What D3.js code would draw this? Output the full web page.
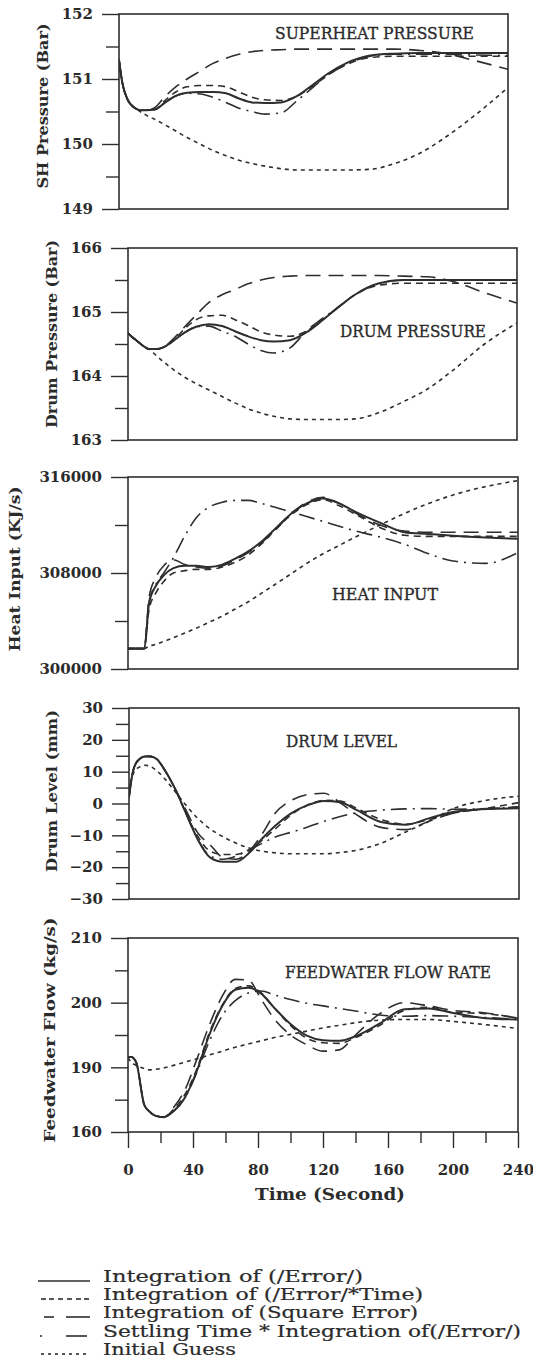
<!DOCTYPE html>
<html>
<head>
<meta charset="utf-8">
<script src="https://cdn.jsdelivr.net/npm/d3@7/dist/d3.min.js"></script>
<style>
  html, body { margin: 0; padding: 0; background: #ffffff; }
  svg { display: block; }
  text { font-family: "DejaVu Serif", "Liberation Serif", serif; fill: #2b2b2b; }
</style>
</head>
<body>
<svg id="chart" width="533" height="1363"></svg>
<script>
// ---------------- DATA ----------------
const timeSec = [0, 2, 5, 10, 13, 17, 22, 28, 35, 42, 50, 58, 66, 74, 82, 90, 100, 110, 120, 130, 140, 155, 170, 185, 200, 220, 240];
const xTickValues = [0, 40, 80, 120, 160, 200, 240];
const xMinorTicks = [20, 60, 100, 140, 180, 220];

const seriesNames = [
  "Integration of (/Error/)",
  "Integration of (/Error/*Time)",
  "Integration of (Square Error)",
  "Settling Time * Integration of(/Error/)",
  "Initial Guess"
];

// Superheat pressure (Bar)
const shTicks = [149, 150, 151, 152];
const shTickLabels = ["149", "150", "151", "152"];
const shMinor = [149.5, 150.5, 151.5];
const shAbsErr   = [151.3, 150.95, 150.7, 150.55, 150.52, 150.52, 150.53, 150.63, 150.74, 150.79, 150.8, 150.8, 150.78, 150.7, 150.64, 150.63, 150.64, 150.74, 150.92, 151.1, 151.24, 151.36, 151.39, 151.4, 151.4, 151.4, 151.4];
const shErrTime  = [151.3, 150.95, 150.7, 150.55, 150.52, 150.52, 150.53, 150.66, 150.8, 150.88, 150.9, 150.9, 150.88, 150.8, 150.72, 150.68, 150.67, 150.74, 150.9, 151.08, 151.22, 151.33, 151.35, 151.35, 151.35, 151.35, 151.35];
const shSqErr    = [151.3, 150.95, 150.7, 150.55, 150.52, 150.52, 150.56, 150.72, 150.88, 151.0, 151.12, 151.24, 151.32, 151.38, 151.42, 151.44, 151.45, 151.46, 151.46, 151.46, 151.46, 151.46, 151.46, 151.44, 151.4, 151.28, 151.15];
const shSettle   = [151.3, 150.95, 150.7, 150.55, 150.52, 150.52, 150.53, 150.63, 150.74, 150.78, 150.77, 150.72, 150.64, 150.55, 150.5, 150.46, 150.48, 150.67, 150.88, 151.08, 151.22, 151.35, 151.38, 151.38, 151.38, 151.37, 151.36];
const shInitial  = [151.3, 150.95, 150.7, 150.55, 150.5, 150.44, 150.38, 150.3, 150.2, 150.1, 150.0, 149.9, 149.82, 149.75, 149.7, 149.66, 149.62, 149.6, 149.6, 149.6, 149.6, 149.61, 149.7, 149.85, 150.08, 150.45, 150.87];

// Drum pressure (Bar)
const dpTicks = [163, 164, 165, 166];
const dpTickLabels = ["163", "164", "165", "166"];
const dpMinor = [163.5, 164.5, 165.5];
const dpAbsErr   = [164.67, 164.62, 164.56, 164.46, 164.42, 164.42, 164.45, 164.55, 164.68, 164.77, 164.81, 164.78, 164.7, 164.62, 164.56, 164.54, 164.56, 164.68, 164.87, 165.08, 165.27, 165.45, 165.5, 165.5, 165.5, 165.5, 165.5];
const dpErrTime  = [164.67, 164.62, 164.56, 164.46, 164.42, 164.42, 164.45, 164.55, 164.74, 164.88, 164.94, 164.95, 164.88, 164.79, 164.69, 164.64, 164.62, 164.7, 164.88, 165.08, 165.27, 165.42, 165.45, 165.45, 165.45, 165.45, 165.45];
const dpSqErr    = [164.67, 164.62, 164.56, 164.46, 164.42, 164.42, 164.45, 164.58, 164.77, 164.95, 165.15, 165.27, 165.35, 165.44, 165.5, 165.54, 165.56, 165.57, 165.57, 165.57, 165.57, 165.57, 165.56, 165.55, 165.48, 165.3, 165.14];
const dpSettle   = [164.67, 164.62, 164.56, 164.46, 164.42, 164.42, 164.45, 164.55, 164.68, 164.77, 164.78, 164.7, 164.62, 164.5, 164.4, 164.36, 164.44, 164.7, 164.9, 165.08, 165.27, 165.45, 165.5, 165.5, 165.5, 165.5, 165.5];
const dpInitial  = [164.67, 164.62, 164.56, 164.46, 164.42, 164.33, 164.22, 164.1, 163.98, 163.88, 163.78, 163.68, 163.58, 163.49, 163.42, 163.37, 163.33, 163.32, 163.32, 163.32, 163.33, 163.43, 163.6, 163.8, 164.08, 164.5, 164.83];

// Heat input (KJ/s)
const hiTicks = [300000, 308000, 316000];
const hiTickLabels = ["300000", "308000", "316000"];
const hiMinor = [304000, 312000];
const hiAbsErr   = [301700, 301700, 301700, 301700, 305500, 306900, 307800, 308400, 308600, 308600, 308500, 308700, 309200, 309800, 310600, 311600, 312900, 313800, 314200, 313800, 313100, 312200, 311400, 311250, 311100, 310950, 310850];
const hiErrTime  = [301700, 301700, 301700, 301700, 305000, 306300, 307300, 308000, 308200, 308300, 308300, 308500, 308900, 309500, 310400, 311500, 312800, 313700, 314100, 313600, 312900, 311800, 311150, 311050, 311050, 311050, 311050];
const hiSqErr    = [301700, 301700, 301700, 301700, 306000, 307600, 308600, 309100, 308700, 308500, 308400, 308600, 309100, 309700, 310500, 311500, 312900, 313900, 314300, 313800, 313000, 312000, 311500, 311400, 311400, 311400, 311400];
const hiSettle   = [301700, 301700, 301700, 301700, 305600, 307000, 308000, 309300, 311100, 312600, 313500, 313900, 314050, 314050, 313800, 313500, 313100, 312700, 312300, 311900, 311500, 311000, 310400, 309600, 309000, 308800, 309700];
const hiInitial  = [301700, 301700, 301700, 301700, 301900, 302050, 302300, 302600, 303000, 303400, 303900, 304400, 305000, 305600, 306300, 307000, 307900, 308800, 309600, 310300, 311000, 312000, 312950, 313800, 314500, 315200, 315700];

// Drum level (mm)
const dlTicks = [-30, -20, -10, 0, 10, 20, 30];
const dlTickLabels = ["\u221230", "\u221220", "\u221210", "0", "10", "20", "30"];
const dlMinor = [-25, -15, -5, 5, 15, 25];
const dlAbsErr   = [2, 9, 13.2, 14.8, 14.8, 14, 10.5, 5, -3, -11, -17, -18.3, -18.3, -15.5, -11, -7, -3, -0.5, 0.8, 0.4, -2, -5.8, -6.7, -4.6, -2.6, -1.7, -1.5];
const dlErrTime  = [2, 9, 13.2, 14.8, 14.8, 14, 10.5, 5, -3, -10, -15, -16, -16, -14.5, -11.5, -8, -3.5, -0.5, 1, 0.8, -1.5, -5, -6.5, -5, -3, -1.5, 0.3];
const dlSqErr    = [2, 9, 13.2, 14.8, 14.8, 14, 10.5, 5, -2, -9, -13, -17, -17.5, -15, -9.5, -3, 1, 2.8, 3.2, 0.2, -3.5, -7.5, -8.2, -5.5, -3, -1.8, -1];
const dlSettle   = [2, 9, 13.2, 14.8, 14.8, 14, 10.5, 5, -3, -11, -16.5, -17.5, -16.5, -14.5, -12.5, -10.5, -9, -7.4, -5.6, -4.1, -2.9, -2.1, -1.7, -1.6, -1.8, -1.6, -1.1];
const dlInitial  = [4, 8.5, 11, 12, 11.7, 10.3, 7.8, 4, -0.5, -4.5, -8, -10.5, -12.5, -14, -15, -15.5, -15.8, -15.8, -15.8, -15.4, -14.7, -12.5, -9, -5.5, -1.5, 1, 2.3];

// Feedwater flow (kg/s)
const fwTicks = [180, 190, 200, 210];
const fwTickLabels = ["160", "190", "200", "210"];
const fwMinor = [185, 195, 205];
const fwAbsErr   = [191.6, 191.6, 190.8, 184.2, 183.2, 182.5, 182.3, 183.2, 185.3, 189.2, 195, 199.5, 202, 202.3, 201.4, 199.2, 196.7, 194.9, 194.2, 194.1, 194.8, 196.8, 199, 199.1, 198.4, 197.6, 197.4];
const fwErrTime  = [191.6, 191.6, 190.8, 184.2, 183.2, 182.5, 182.3, 183.5, 185.8, 189.5, 195.3, 199.6, 202.2, 202.6, 201.5, 199.2, 196.5, 194.5, 193.8, 193.7, 194.6, 196.5, 198.8, 199.3, 198.5, 198.3, 197.6];
const fwSqErr    = [191.6, 191.6, 190.8, 184.2, 183.2, 182.5, 182.3, 183.8, 186.5, 191, 196.5, 201, 203.6, 203.5, 200.5, 197.5, 195, 193.5, 192.5, 192.7, 195, 198.3, 200, 199.5, 198.8, 198.4, 197.6];
const fwSettle   = [191.6, 191.6, 190.8, 184.2, 183.2, 182.5, 182.3, 183.2, 185.3, 189, 194, 198, 200.3, 201.5, 201.8, 201.2, 200.5, 199.9, 199.5, 199.1, 198.7, 198.1, 197.9, 198, 197.9, 197.7, 197.4];
const fwInitial  = [191.5, 190.8, 190.3, 189.8, 189.6, 189.7, 189.9, 190.3, 190.8, 191.3, 191.9, 192.5, 193.1, 193.6, 194.1, 194.6, 195.1, 195.6, 196.1, 196.5, 196.9, 197.3, 197.4, 197.4, 197.1, 196.6, 196];

// ---------------- LAYOUT / STYLE ----------------
const ink = "#2e2e2e";
const styles = [
  { dash: null,          width: 2.0 },
  { dash: "7,5",         width: 1.6 },
  { dash: "15,8",        width: 1.6 },
  { dash: "16,6,2,6",    width: 1.6 },
  { dash: "4,4",         width: 1.6 }
];

const panels = [
  { box: { x0: 119, x1: 508, y0: 14, y1: 209 }, domain: [149, 152],
    ticks: shTicks, labels: shTickLabels, minor: shMinor,
    series: [shAbsErr, shErrTime, shSqErr, shSettle, shInitial],
    title: "SUPERHEAT PRESSURE", titleAt: [275, 39, 199],
    yTitle: "SH Pressure (Bar)", yTitleAt: [43, 106, 165] },
  { box: { x0: 128, x1: 517, y0: 248, y1: 440 }, domain: [163, 166],
    ticks: dpTicks, labels: dpTickLabels, minor: dpMinor,
    series: [dpAbsErr, dpErrTime, dpSqErr, dpSettle, dpInitial],
    title: "DRUM PRESSURE", titleAt: [340, 337, 146],
    yTitle: "Drum Pressure (Bar)", yTitleAt: [52, 334, 188] },
  { box: { x0: 128, x1: 518, y0: 477, y1: 669 }, domain: [300000, 316000],
    ticks: hiTicks, labels: hiTickLabels, minor: hiMinor,
    series: [hiAbsErr, hiErrTime, hiSqErr, hiSettle, hiInitial],
    title: "HEAT INPUT", titleAt: [332, 600, 106],
    yTitle: "Heat Input (KJ/s)", yTitleAt: [15, 569, 165] },
  { box: { x0: 129, x1: 519, y0: 708, y1: 899 }, domain: [-30, 30],
    ticks: dlTicks, labels: dlTickLabels, minor: dlMinor,
    series: [dlAbsErr, dlErrTime, dlSqErr, dlSettle, dlInitial],
    title: "DRUM LEVEL", titleAt: [286, 747, 111],
    yTitle: "Drum Level (mm)", yTitleAt: [52, 791, 162] },
  { box: { x0: 128, x1: 518, y0: 938, y1: 1132 }, domain: [180, 210],
    ticks: fwTicks, labels: fwTickLabels, minor: fwMinor,
    series: [fwAbsErr, fwErrTime, fwSqErr, fwSettle, fwInitial],
    title: "FEEDWATER FLOW RATE", titleAt: [285, 978, 206],
    yTitle: "Feedwater Flow (kg/s)", yTitleAt: [50, 1030, 225] }
];

const svg = d3.select("#chart");

panels.forEach((p, pi) => {
  const b = p.box;
  const x = d3.scaleLinear().domain([0, 240]).range([b.x0, b.x1]);
  const y = d3.scaleLinear().domain(p.domain).range([b.y1, b.y0]);
  const g = svg.append("g");

  const minorAxis = d3.axisLeft(y).tickValues(p.minor).tickSize(13).tickFormat("");
  g.append("g").attr("transform", `translate(${b.x0},0)`).call(minorAxis)
    .call(s => s.select(".domain").remove())
    .call(s => s.selectAll("line").attr("stroke", ink).attr("stroke-width", 1.4));

  const majorAxis = d3.axisLeft(y).tickValues(p.ticks).tickSize(17).tickPadding(9)
    .tickFormat((d, i) => p.labels[i]);
  g.append("g").attr("transform", `translate(${b.x0},0)`).call(majorAxis)
    .call(s => s.select(".domain").remove())
    .call(s => s.selectAll("line").attr("stroke", ink).attr("stroke-width", 1.4))
    .call(s => s.selectAll("text")
      .attr("font-family", "DejaVu Serif").attr("font-size", 15).attr("font-weight", "bold")
      .attr("fill", "#2b2b2b"));

  if (pi === panels.length - 1) {
    const xMinor = d3.axisBottom(x).tickValues(xMinorTicks).tickSize(11).tickFormat("");
    g.append("g").attr("transform", `translate(0,${b.y1})`).call(xMinor)
      .call(s => s.select(".domain").remove())
      .call(s => s.selectAll("line").attr("stroke", ink).attr("stroke-width", 1.4));
    const xMajor = d3.axisBottom(x).tickValues(xTickValues).tickSize(16).tickPadding(16);
    g.append("g").attr("transform", `translate(0,${b.y1})`).call(xMajor)
      .call(s => s.select(".domain").remove())
      .call(s => s.selectAll("line").attr("stroke", ink).attr("stroke-width", 1.4))
      .call(s => s.selectAll("text")
        .attr("font-family", "DejaVu Serif").attr("font-size", 15).attr("font-weight", "bold")
        .attr("fill", "#2b2b2b"));
  }

  g.append("rect")
    .attr("x", b.x0).attr("y", b.y0)
    .attr("width", b.x1 - b.x0).attr("height", b.y1 - b.y0)
    .attr("fill", "none").attr("stroke", ink).attr("stroke-width", 1.6);

  const line = d3.line()
    .x((d, i) => x(timeSec[i]))
    .y(d => y(d))
    .curve(d3.curveMonotoneX);
  const clipId = "clip" + pi;
  svg.append("clipPath").attr("id", clipId).append("rect")
    .attr("x", b.x0).attr("y", b.y0 - 2).attr("width", b.x1 - b.x0).attr("height", b.y1 - b.y0 + 4);
  [4, 3, 2, 1, 0].forEach(si => {
    const st = styles[si];
    g.append("path")
      .datum(p.series[si])
      .attr("clip-path", `url(#${clipId})`)
      .attr("d", line)
      .attr("fill", "none")
      .attr("stroke", ink)
      .attr("stroke-width", st.width)
      .attr("stroke-linejoin", "round")
      .attr("stroke-dasharray", st.dash);
  });

  g.append("text")
    .attr("x", p.titleAt[0]).attr("y", p.titleAt[1])
    .attr("font-size", 16)
    .attr("textLength", p.titleAt[2]).attr("lengthAdjust", "spacingAndGlyphs")
    .attr("stroke", "#2b2b2b").attr("stroke-width", 0.35)
    .text(p.title);

  g.append("text")
    .attr("transform", `translate(${p.yTitleAt[0]},${p.yTitleAt[1]}) rotate(-90)`)
    .attr("text-anchor", "middle")
    .attr("dominant-baseline", "central")
    .attr("font-size", 15).attr("font-weight", "bold")
    .attr("textLength", p.yTitleAt[2]).attr("lengthAdjust", "spacingAndGlyphs")
    .text(p.yTitle);
});

svg.append("text")
  .attr("x", 255).attr("y", 1200)
  .attr("font-size", 17).attr("font-weight", "bold")
  .attr("textLength", 150).attr("lengthAdjust", "spacingAndGlyphs")
  .text("Time (Second)");

// legend
const legendRows = [1282, 1300, 1318, 1337, 1355];
const legendTextLen = [260, 320, 315, 418, 133];
const legendSamples = [
  [[38, 90]],
  [[41, 46], [49, 54], [58, 63], [67, 72], [76, 81], [84, 89]],
  [[44, 54], [66, 90]],
  [[40, 42], [66, 87]],
  [[41, 44], [48, 51], [55, 58], [62, 65], [69, 72], [76, 79], [83, 86]]
];
const legend = svg.append("g");
seriesNames.forEach((name, i) => {
  const yy = legendRows[i];
  legendSamples[i].forEach(seg => {
    legend.append("line")
      .attr("x1", seg[0]).attr("x2", seg[1])
      .attr("y1", yy - 1).attr("y2", yy - 1)
      .attr("stroke", ink).attr("stroke-width", 1.6);
  });
  legend.append("text")
    .attr("x", 103).attr("y", yy)
    .attr("font-size", 16)
    .attr("textLength", legendTextLen[i]).attr("lengthAdjust", "spacingAndGlyphs")
    .attr("stroke", "#2b2b2b").attr("stroke-width", 0.2)
    .text(name);
});
</script>
</body>
</html>
